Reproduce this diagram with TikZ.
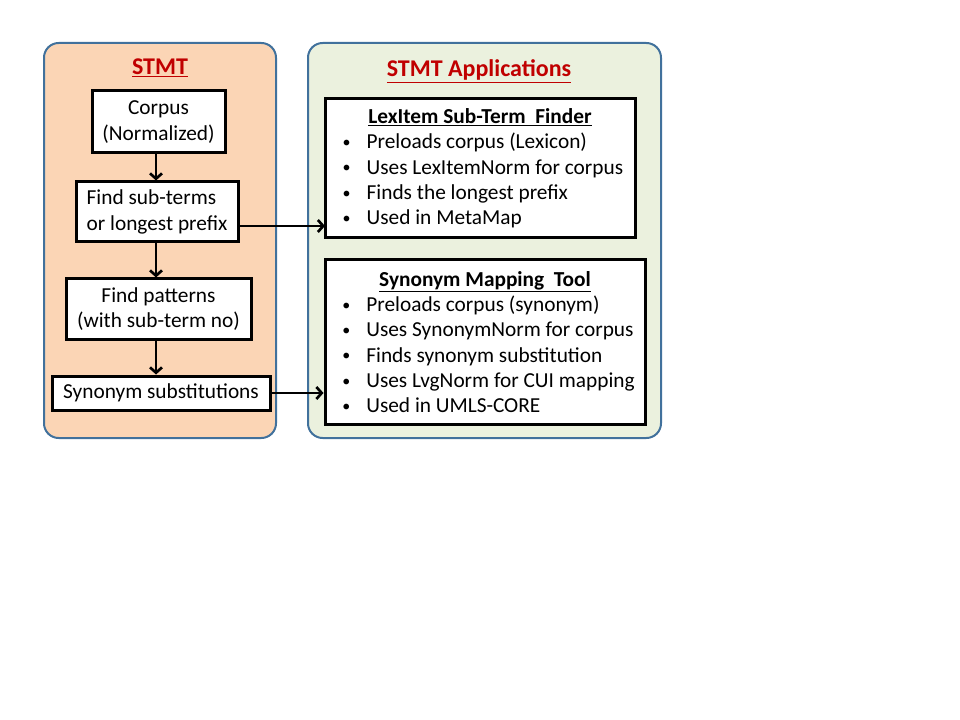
\documentclass[tikz,border=0pt]{standalone}
\usepackage{fontspec}
\setmainfont{Carlito}
\usepackage{tikz}
\usetikzlibrary{arrows.meta, positioning}

\definecolor{stmtfill}{HTML}{FBD5B5}
\definecolor{appfill}{HTML}{EBF1DE}
\definecolor{panelline}{HTML}{41719C}
\definecolor{titlered}{HTML}{C00000}

\newcommand{\bul}{\hspace*{7pt}\makebox[18pt][l]{\raisebox{1pt}{\fontsize{12}{12}\selectfont\textbullet}}}

\begin{document}
\begin{tikzpicture}[x=0.75pt, y=-0.75pt,
  panel/.style={draw=panelline, line width=1.5pt, rounded corners=11pt},
  paneltitle/.style={text=titlered, font=\fontsize{18}{21}\selectfont\bfseries},
  box/.style={draw, line width=2.25pt, fill=white, align=center, inner sep=2pt,
    font=\fontsize{16}{19}\selectfont},
  appbox/.style={draw, line width=2.25pt, fill=white, inner sep=0pt,
    font=\fontsize{16}{19}\selectfont},
  arr/.style={line width=2pt, -{Straight Barb[length=4pt, width=9pt, line width=2pt]}}]
\useasboundingbox (0,0) rectangle (960,720);

% two panels
\node[panel, fill=stmtfill, minimum width=174pt, minimum height=296.25pt] (stmtpanel) at (160,240.5) {};
\node[panel, fill=appfill, minimum width=264.75pt, minimum height=296.25pt] (apppanel) at (484.5,240.5) {};
\node[paneltitle] (stmttitle) at (160,68) {\underline{STMT}};
\node[paneltitle] (apptitle) at (479,71) {\underline{STMT Applications}};

% STMT steps
\node[box, minimum width=99.75pt, minimum height=46.5pt] (corpus) at (158.5,122) {Corpus\\(Normalized)};
\node[box, align=left, minimum width=121.5pt, minimum height=45pt] (find) at (157,212) {Find sub-terms\\or longest prefix};
\node[box, minimum width=138.75pt, minimum height=45pt] (patterns) at (158.5,309) {Find patterns\\(with sub-term no)};
\node[box, minimum width=163.5pt, minimum height=25.5pt] (subst) at (161,393) {Synonym substitutions};

\coordinate (spine) at (156,0);
\draw[arr] (corpus.south -| spine) -- (find.north -| spine);
\draw[arr] (find.south -| spine) -- (patterns.north -| spine);
\draw[arr] (patterns.south -| spine) -- (subst.north -| spine);

% applications
\node[appbox, minimum width=232.5pt, minimum height=104.25pt] (lex) at (480,168.5) {%
  \begin{minipage}{220pt}
  \centering\textbf{\underline{LexItem Sub-Term\ \ Finder}}\par
  \raggedright
  \bul Preloads corpus (Lexicon)\par
  \bul Uses LexItemNorm for corpus\par
  \bul Finds the longest prefix\par
  \bul Used in MetaMap
  \end{minipage}};
\node[appbox, minimum width=240pt, minimum height=123pt] (smt) at (485,342) {%
  \begin{minipage}{228pt}
  \centering\textbf{\underline{Synonym Mapping\ \ Tool}}\par
  \raggedright
  \bul Preloads corpus (synonym)\par
  \bul Uses SynonymNorm for corpus\par
  \bul Finds synonym substitution\par
  \bul Uses LvgNorm for CUI mapping\par
  \bul Used in UMLS-CORE
  \end{minipage}};

\coordinate (lexin) at (325,226);
\draw[arr] (find.east |- lexin) -- (lexin);
\draw[arr] (subst.east) -- (smt.west |- subst.east);
\end{tikzpicture}
\end{document}
